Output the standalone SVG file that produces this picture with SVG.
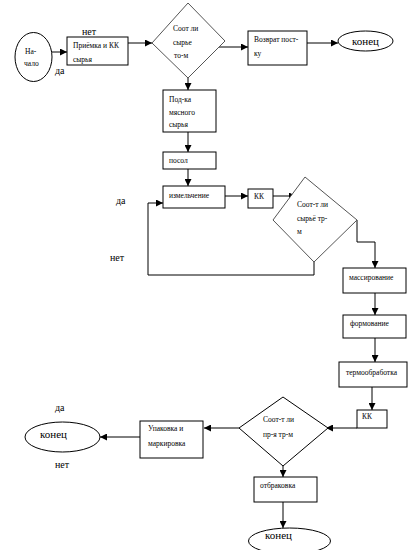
<svg xmlns="http://www.w3.org/2000/svg" width="413" height="550" viewBox="0 0 413 550">
<style>
.b{fill:#fff;stroke:#000;stroke-width:1}
.d{fill:#fff;stroke:#555;stroke-width:1}
.c{fill:none;stroke:#000;stroke-width:1}
.t{font-family:"Liberation Serif",serif;font-size:7.5px;fill:#000}
.l{font-family:"Liberation Serif",serif;font-size:10px;fill:#000}
.e{font-family:"Liberation Serif",serif;font-size:11px;fill:#000}
</style>
<defs>
<marker id="a" viewBox="0 0 8 8" refX="8" refY="4" markerWidth="7" markerHeight="7" markerUnits="userSpaceOnUse" orient="auto">
<path d="M0,0 L8,4 L0,8 z" fill="#000"/>
</marker>
</defs>
<g id="connectors">
<line class="c" x1="52" y1="52" x2="67" y2="52" marker-end="url(#a)"/>
<line class="c" x1="128" y1="43" x2="152" y2="43" marker-end="url(#a)"/>
<line class="c" x1="217" y1="47" x2="248" y2="47" stroke="#555" marker-end="url(#a)"/>
<line class="c" x1="307" y1="43" x2="338" y2="43" marker-end="url(#a)"/>
<line class="c" x1="188" y1="78" x2="188" y2="90" marker-end="url(#a)"/>
<line class="c" x1="188" y1="132" x2="188" y2="152" marker-end="url(#a)"/>
<line class="c" x1="188" y1="169" x2="188" y2="186" marker-end="url(#a)"/>
<line class="c" x1="225" y1="196" x2="248" y2="196" stroke="#555" marker-end="url(#a)"/>
<line class="c" x1="273" y1="196" x2="296" y2="196" marker-end="url(#a)"/>
<polyline class="c" points="314,262 314,275 148,275 148,203 163,203" marker-end="url(#a)"/>
<polyline class="c" points="357,220 357,242 375,242 375,268" marker-end="url(#a)"/>
<line class="c" x1="375" y1="293" x2="375" y2="315" marker-end="url(#a)"/>
<line class="c" x1="375" y1="338" x2="375" y2="362" marker-end="url(#a)"/>
<line class="c" x1="372" y1="387" x2="372" y2="410" marker-end="url(#a)"/>
<line class="c" x1="357" y1="428" x2="326" y2="428" marker-end="url(#a)"/>
<line class="c" x1="239" y1="428" x2="204" y2="428" marker-end="url(#a)"/>
<line class="c" x1="140" y1="437" x2="100" y2="437" stroke="#555" marker-end="url(#a)"/>
<line class="c" x1="283" y1="466" x2="283" y2="477" marker-end="url(#a)"/>
<line class="c" x1="283" y1="502" x2="283" y2="528" marker-end="url(#a)"/>
</g>
<g id="start">
<ellipse class="b" cx="33.5" cy="57" rx="18.5" ry="24.5"/>
<text class="t" x="25" y="54">На-</text>
<text class="t" x="24" y="66">чало</text>
</g>
<g id="priemka">
<rect class="b" x="67" y="37" width="61" height="28"/>
<text class="t" x="73" y="48">Приёмка и КК</text>
<text class="t" x="73" y="62">сырья</text>
</g>
<g id="dec1">
<polygon class="d" points="188,3 225,41 188,78 152,43"/>
<text class="t" x="173" y="31">Соот ли</text>
<text class="t" x="173" y="45">сырье</text>
<text class="t" x="174" y="58">то-м</text>
</g>
<g id="vozvrat">
<rect class="b" x="248" y="31" width="59" height="34"/>
<text class="t" x="254" y="42">Возврат пост-</text>
<text class="t" x="254" y="56">ку</text>
</g>
<g id="end1">
<ellipse class="b" cx="365.5" cy="41" rx="27.5" ry="10"/>
<text class="e" x="365.5" y="45" text-anchor="middle">конец</text>
</g>
<g id="podka">
<rect class="b" x="163" y="90" width="53" height="42"/>
<text class="t" x="169" y="102">Под-ка</text>
<text class="t" x="169" y="115">мясного</text>
<text class="t" x="169" y="127">сырья</text>
</g>
<g id="posol">
<rect class="b" x="163" y="152" width="53" height="17"/>
<text class="t" x="169" y="163">посол</text>
</g>
<g id="izmel">
<rect class="b" x="163" y="186" width="62" height="22"/>
<text class="t" x="169" y="198">измельчение</text>
</g>
<g id="kk1">
<rect class="b" x="248" y="189" width="25" height="19"/>
<text class="t" x="254" y="199">КК</text>
</g>
<g id="dec2">
<polygon class="d" points="305,177 357,220 314,262 273,220"/>
<text class="t" x="297" y="207" fill="#333">Соот-т ли</text>
<text class="t" x="297" y="221" fill="#333">сырьё тр-</text>
<text class="t" x="297" y="234" fill="#333">м</text>
</g>
<g id="mass">
<rect class="b" x="343" y="268" width="63" height="25"/>
<text class="t" x="349" y="280">массирование</text>
</g>
<g id="form">
<rect class="b" x="343" y="315" width="63" height="23"/>
<text class="t" x="350" y="326">формование</text>
</g>
<g id="termo">
<rect class="b" x="339" y="362" width="68" height="25"/>
<text class="t" x="346" y="375">термообработка</text>
</g>
<g id="kk2">
<rect class="b" x="357" y="410" width="30" height="18"/>
<text class="t" x="362" y="419">КК</text>
</g>
<g id="dec3">
<polygon class="b" points="283,397 328,428 283,466 239,428"/>
<text class="t" x="263" y="422">Соот-т ли</text>
<text class="t" x="263" y="437">пр-я тр-м</text>
</g>
<g id="upak">
<rect class="b" x="140" y="421" width="63" height="37"/>
<text class="t" x="148" y="431">Упаковка и</text>
<text class="t" x="148" y="446">маркировка</text>
</g>
<g id="end2">
<ellipse class="b" cx="62.5" cy="437" rx="37.5" ry="15"/>
<text class="e" x="40" y="438">конец</text>
</g>
<g id="otbr">
<rect class="b" x="254" y="477" width="63" height="25"/>
<text class="t" x="260" y="488">отбраковка</text>
</g>
<g id="end3">
<ellipse class="b" cx="289.5" cy="541" rx="41" ry="13"/>
<text class="e" x="265" y="539">конец</text>
</g>
<g id="labels">
<text class="l" x="82" y="35">нет</text>
<text class="l" x="55" y="74">да</text>
<text class="l" x="116" y="204">да</text>
<text class="l" x="110" y="261">нет</text>
<text class="l" x="55" y="411">да</text>
<text class="l" x="55" y="468">нет</text>
</g>
</svg>
